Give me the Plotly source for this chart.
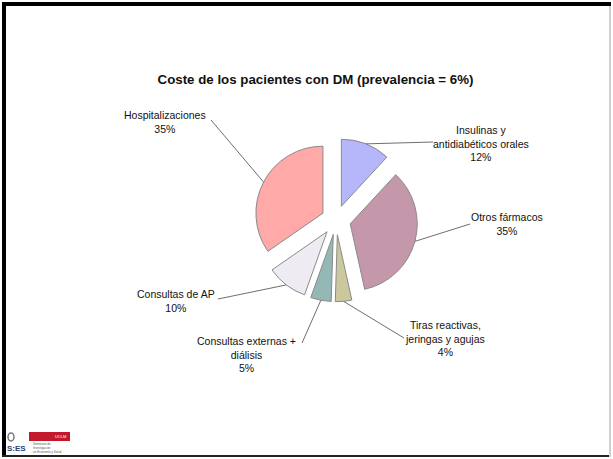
import math
import plotly.graph_objects as go

# ---- data ----
categories = ["Insulinas y antidiabéticos orales", "Otros fármacos",
              "Tiras reactivas, jeringas y agujas", "Consultas externas + diálisis",
              "Consultas de AP", "Hospitalizaciones"]
label_text = ["Insulinas y<br>antidiabéticos orales", "Otros fármacos",
              "Tiras reactivas,<br>jeringas y agujas", "Consultas externas +<br>diálisis",
              "Consultas de AP", "Hospitalizaciones"]
values = [12, 35, 4, 5, 10, 35]
title_text = "Coste de los pacientes con DM (prevalencia = 6%)"

# ---- styles / layout ----
W, H = 613, 459
colors = ["#b6b6fb", "#c497aa", "#cbc89e", "#93b8b5", "#eeebf2", "#ffa9a9"]
PIE_CX, PIE_CY, PIE_R, PULL = 336, 220, 67, 0.22
# label centers (px) and leader-line label-side ends (px)
label_pos = [(481, 143), (507, 224.5), (445, 338.5), (246, 354), (176, 301), (165, 122)]
line_end = [(433, 142), (470, 224), (404, 338), (302, 343), (218, 299), (211, 120)]
FONT = "Liberation Sans, Arial, sans-serif"


def px(x):
    return x / W


def py(y):
    return 1 - y / H


half = PIE_R * (1 + PULL)
fig = go.Figure(go.Pie(
    values=values, labels=categories, sort=False, direction="clockwise",
    rotation=0, pull=PULL, textinfo="none", showlegend=False,
    marker=dict(colors=colors, line=dict(color="#8a8a8a", width=1)),
    domain=dict(x=[px(PIE_CX - half), px(PIE_CX + half)],
                y=[py(PIE_CY + half), py(PIE_CY - half)]),
))

total = sum(values)
shapes = []
annotations = []
cum = 0.0
for i, v in enumerate(values):
    mid = (cum + v / 2) / total * 2 * math.pi
    cum += v
    ex = PIE_CX + (1 + PULL) * PIE_R * math.sin(mid)
    ey = PIE_CY - (1 + PULL) * PIE_R * math.cos(mid)
    lx, ly = line_end[i]
    shapes.append(dict(type="line", xref="paper", yref="paper",
                       x0=px(ex), y0=py(ey), x1=px(lx), y1=py(ly),
                       line=dict(color="#6e6e6e", width=1)))
    tx, ty = label_pos[i]
    annotations.append(dict(text=f"{label_text[i]}<br>{v}%", x=px(tx), y=py(ty),
                            xref="paper", yref="paper", xanchor="center", yanchor="middle",
                            showarrow=False, align="center",
                            font=dict(family=FONT, size=10.5, color="#111111")))

# frame
shapes += [
    dict(type="rect", xref="paper", yref="paper", x0=px(2), x1=px(6), y0=py(457), y1=py(2),
         fillcolor="#000000", line=dict(width=0)),
    dict(type="rect", xref="paper", yref="paper", x0=px(2), x1=px(611), y0=py(6), y1=py(2),
         fillcolor="#000000", line=dict(width=0)),
    dict(type="rect", xref="paper", yref="paper", x0=px(2), x1=px(611), y0=py(457), y1=py(455),
         fillcolor="#222222", line=dict(width=0)),
    dict(type="rect", xref="paper", yref="paper", x0=px(609), x1=px(611), y0=py(457), y1=py(6),
         fillcolor="#d0d0d0", line=dict(width=0)),
    # logo
    dict(type="rect", xref="paper", yref="paper", x0=px(29), x1=px(70), y0=py(441), y1=py(432),
         fillcolor="#c21a2c", line=dict(width=0)),
    dict(type="circle", xref="paper", yref="paper", x0=px(8), x1=px(14), y0=py(441), y1=py(433),
         fillcolor="rgba(0,0,0,0)", line=dict(color="#777777", width=1.5)),
]
annotations += [
    dict(text="S:ES", x=px(5), y=py(448), xref="paper", yref="paper", showarrow=False,
         xanchor="left", yanchor="middle",
         font=dict(family=FONT, size=8, color="#2a3f6e", weight="bold")),
    dict(text="Seminario de<br>Investigación<br>en Economía y Salud", x=px(31), y=py(448),
         xref="paper", yref="paper", xanchor="left", yanchor="middle", showarrow=False,
         align="left", font=dict(family=FONT, size=3, color="#555555")),
    dict(text="UCLM", x=px(60), y=py(436.5), xref="paper", yref="paper", showarrow=False,
         xanchor="center", yanchor="middle",
         font=dict(family=FONT, size=4, color="#ffffff")),
]

fig.update_layout(
    width=W, height=H, autosize=False,
    margin=dict(l=0, r=0, t=0, b=0),
    paper_bgcolor="white", plot_bgcolor="white",
    title=dict(text=title_text, x=px(315.5), y=py(79), xanchor="center", yanchor="middle",
               font=dict(family=FONT, size=13.3, color="#111111", weight="bold")),
    shapes=shapes, annotations=annotations,
)
fig.write_html("out.html")
